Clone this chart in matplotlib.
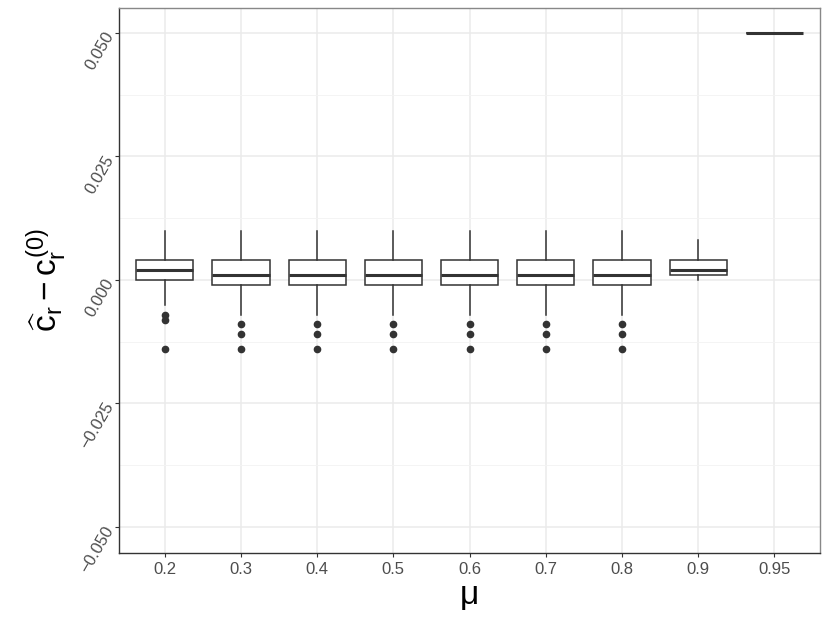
import numpy as np
import matplotlib
matplotlib.use("Agg")
import matplotlib.pyplot as plt
from matplotlib.ticker import MultipleLocator

plt.rcParams['font.family'] = ['Liberation Sans', 'DejaVu Sans']
plt.rcParams['mathtext.fontset'] = 'custom'
plt.rcParams['mathtext.rm'] = 'Liberation Sans'
plt.rcParams['mathtext.it'] = 'Liberation Sans'

# values
mu_labels = ["0.2", "0.3", "0.4", "0.5", "0.6", "0.7", "0.8", "0.9", "0.95"]
q1 = [0.000, -0.001, -0.001, -0.001, -0.001, -0.001, -0.001, 0.001, 0.05]
med = [0.002, 0.001, 0.001, 0.001, 0.001, 0.001, 0.001, 0.002, 0.05]
q3 = [0.004, 0.004, 0.004, 0.004, 0.004, 0.004, 0.004, 0.004, 0.05]
whis_lo = [-0.005, -0.007, -0.007, -0.007, -0.007, -0.007, -0.007, 0.000, 0.05]
whis_hi = [0.010, 0.010, 0.010, 0.010, 0.010, 0.010, 0.010, 0.008, 0.05]
fliers = [
    [-0.007, -0.008, -0.014],
    [-0.009, -0.011, -0.014],
    [-0.009, -0.011, -0.014],
    [-0.009, -0.011, -0.014],
    [-0.009, -0.011, -0.014],
    [-0.009, -0.011, -0.014],
    [-0.009, -0.011, -0.014],
    [],
    [],
]
ytick_vals = [-0.05, -0.025, 0, 0.025, 0.05]
ytick_labels = ["\u22120.050", "\u22120.025", "0.000", "0.025", "0.050"]

stats = []
for i, lab in enumerate(mu_labels):
    stats.append(dict(label=lab, q1=q1[i], med=med[i], q3=q3[i],
                      whislo=whis_lo[i], whishi=whis_hi[i], fliers=fliers[i]))

fig = plt.figure(figsize=(8.3, 6.23), dpi=100)
ax = fig.add_axes([0.1434, 0.1124, 0.8446, 0.8748])

dark = '#333333'
pos = np.arange(1, len(mu_labels) + 1)
ax.bxp(stats, positions=pos, widths=0.75, showcaps=False, patch_artist=True,
       boxprops=dict(facecolor='white', edgecolor=dark, linewidth=1.1),
       whiskerprops=dict(color=dark, linewidth=1.1),
       medianprops=dict(color=dark, linewidth=2.2),
       flierprops=dict(marker='o', markerfacecolor=dark, markeredgecolor=dark,
                       markersize=4.5, linestyle='none'),
       zorder=3)

ax.set_xlim(0.4, 9.6)
ax.set_ylim(-0.05526, 0.05506)
ax.set_xticks(pos)
ax.set_xticklabels(mu_labels)
ax.yaxis.set_minor_locator(MultipleLocator(0.0125))
ax.set_yticks(ytick_vals)
ax.set_yticklabels(ytick_labels)

ax.grid(which='major', color='#EBEBEB', linewidth=1.1, zorder=0)
ax.grid(which='minor', axis='y', color='#F3F3F3', linewidth=0.6, zorder=0)
ax.set_axisbelow(True)
ax.tick_params(which='minor', length=0)
ax.tick_params(which='major', length=3, color=dark, width=0.8,
               labelsize=12, labelcolor='#4D4D4D')
for lab in ax.get_yticklabels():
    lab.set_rotation(60)
    lab.set_rotation_mode('anchor')
    lab.set_ha('right')
    lab.set_va('center')
for s in ax.spines.values():
    s.set_color('#888888')
    s.set_linewidth(1.0)
ax.spines['left'].set_color(dark)
ax.spines['bottom'].set_color(dark)

ax.set_xlabel('\u03bc', fontsize=24, labelpad=2)
ax.set_ylabel(r'$\widehat{c}_r - c_r^{(0)}$', fontsize=24, labelpad=6)

fig.savefig('out.png', dpi=100)
